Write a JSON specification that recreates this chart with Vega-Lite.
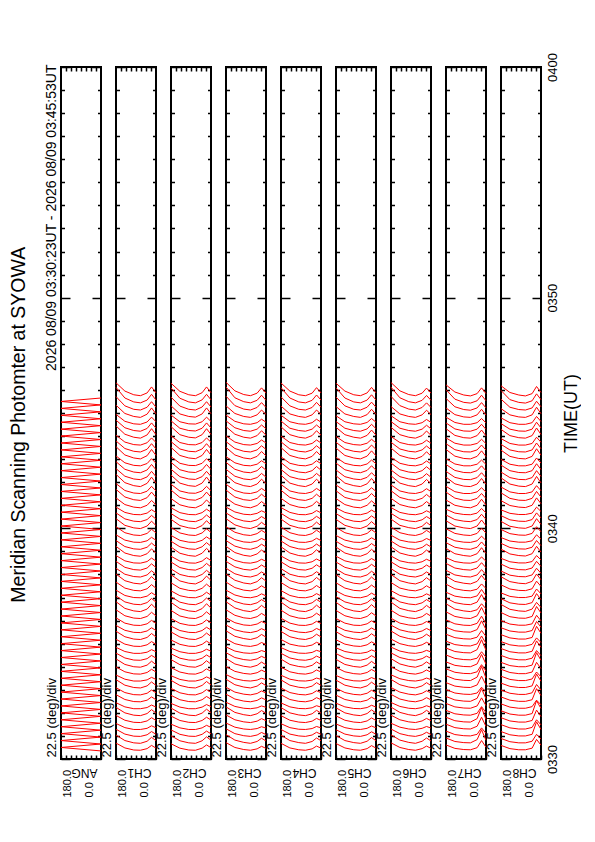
{
"padding":{"left":8,"top":51,"right":0,"bottom":0},
"title":{"text":"Meridian Scanning Photomter at SYOWA","orient":"left","anchor":"middle","align":"center","fontSize":19.5,"font":"Liberation Sans","fontWeight":"normal","color":"black","offset":14},
"datasets":{
"scans":[
{"t":35,"a":[180,140,100,70,40,20,0],"CH1":[69,48,39,38,45,59,47],"CH2":[66,47,39,38,47,61,49],"CH3":[71,50,41,38,44,55,46],"CH4":[68,48,40,38,44,56,47],"CH5":[67,48,40,38,45,58,47],"CH6":[70,50,41,38,45,56,46],"CH7":[61,46,41,40,49,80,51],"CH8":[59,45,40,40,47,85,60]},
{"t":65,"a":[180,140,100,70,40,20,0],"CH1":[104,80,70,68,77,94,79],"CH2":[101,79,70,68,79,96,81],"CH3":[106,82,72,68,76,90,78],"CH4":[103,80,71,68,76,91,79],"CH5":[102,80,71,68,77,93,79],"CH6":[105,82,72,68,77,91,78],"CH7":[91,76,71,70,84,127,81],"CH8":[89,75,70,70,77,107,86]},
{"t":95,"a":[180,140,100,70,40,20,0],"CH1":[129,108,99,98,105,119,107],"CH2":[126,107,99,98,107,121,109],"CH3":[131,110,101,98,104,115,106],"CH4":[128,108,100,98,104,116,107],"CH5":[127,108,100,98,105,118,107],"CH6":[130,110,101,98,105,116,106],"CH7":[121,106,101,100,107,135,111],"CH8":[119,105,100,100,107,161,128]},
{"t":125,"a":[180,140,100,70,40,20,0],"CH1":[154,136,128,128,133,144,135],"CH2":[151,135,128,128,135,146,137],"CH3":[156,138,130,128,132,140,134],"CH4":[153,136,129,128,132,141,135],"CH5":[152,136,129,128,133,143,135],"CH6":[155,138,130,128,133,141,134],"CH7":[151,136,131,130,142,181,141],"CH8":[149,135,130,130,137,170,148]},
{"t":155,"a":[180,140,100,70,40,20,0],"CH1":[189,168,159,158,165,179,167],"CH2":[186,167,159,158,167,181,169],"CH3":[191,170,161,158,164,175,166],"CH4":[188,168,160,158,164,176,167],"CH5":[187,168,160,158,165,178,167],"CH6":[190,170,161,158,165,176,166],"CH7":[181,166,161,160,175,223,171],"CH8":[179,165,160,160,167,212,184]},
{"t":185,"a":[180,140,100,70,40,20,0],"CH1":[224,200,190,188,197,214,199],"CH2":[221,199,190,188,199,216,201],"CH3":[226,202,192,188,196,210,198],"CH4":[223,200,191,188,196,211,199],"CH5":[222,200,191,188,197,213,199],"CH6":[225,202,192,188,197,211,198],"CH7":[211,196,191,190,198,227,201],"CH8":[209,195,190,190,197,253,219]},
{"t":215,"a":[180,140,100,70,40,20,0],"CH1":[244,226,218,218,223,234,225],"CH2":[241,225,218,218,225,236,227],"CH3":[246,228,220,218,222,230,224],"CH4":[243,226,219,218,222,231,225],"CH5":[242,226,219,218,223,233,225],"CH6":[245,228,220,218,223,231,224],"CH7":[241,226,221,220,230,265,231],"CH8":[239,225,220,220,227,255,235]},
{"t":245,"a":[180,140,100,70,40,20,0],"CH1":[279,258,249,248,255,269,257],"CH2":[276,257,249,248,257,271,259],"CH3":[281,260,251,248,254,265,256],"CH4":[278,258,250,248,254,266,257],"CH5":[277,258,250,248,255,268,257],"CH6":[280,260,251,248,255,266,256],"CH7":[271,256,251,250,263,305,261],"CH8":[269,255,250,250,257,305,275]},
{"t":275,"a":[180,140,100,70,40,20,0],"CH1":[309,288,279,278,285,299,287],"CH2":[306,287,279,278,287,301,289],"CH3":[311,290,281,278,284,295,286],"CH4":[308,288,280,278,284,296,287],"CH5":[307,288,280,278,285,298,287],"CH6":[310,290,281,278,285,296,286],"CH7":[301,286,281,280,286,311,291],"CH8":[299,285,280,280,287,323,299]},
{"t":305,"a":[180,140,100,70,40,20,0],"CH1":[344,320,310,308,317,334,319],"CH2":[341,319,310,308,319,336,321],"CH3":[346,322,312,308,316,330,318],"CH4":[343,320,311,308,316,331,319],"CH5":[342,320,311,308,317,333,319],"CH6":[345,322,312,308,317,331,318],"CH7":[331,316,311,310,321,359,321],"CH8":[329,315,310,310,317,368,337]},
{"t":335,"a":[180,140,100,70,40,20,0],"CH1":[364,346,338,338,343,354,345],"CH2":[361,345,338,338,345,356,347],"CH3":[366,348,340,338,342,350,344],"CH4":[363,346,339,338,342,351,345],"CH5":[362,346,339,338,343,353,345],"CH6":[365,348,340,338,343,351,344],"CH7":[361,346,341,340,355,401,351],"CH8":[359,345,340,340,347,377,356]},
{"t":365,"a":[180,140,100,70,40,20,0],"CH1":[399,378,369,368,375,389,377],"CH2":[396,377,369,368,377,391,379],"CH3":[401,380,371,368,374,385,376],"CH4":[398,378,370,368,374,386,377],"CH5":[397,378,370,368,375,388,377],"CH6":[400,380,371,368,375,386,376],"CH7":[391,376,371,370,378,409,381],"CH8":[389,375,370,370,377,419,392]},
{"t":395,"a":[180,140,100,70,40,20,0],"CH1":[434,410,400,398,407,424,409],"CH2":[431,409,400,398,409,426,411],"CH3":[436,412,402,398,406,420,408],"CH4":[433,410,401,398,406,421,409],"CH5":[432,410,401,398,407,423,409],"CH6":[435,412,402,398,407,421,408],"CH7":[421,406,401,400,412,453,411],"CH8":[419,405,400,400,407,461,428]},
{"t":425,"a":[180,140,100,70,40,20,0],"CH1":[459,438,429,428,435,449,437],"CH2":[456,437,429,428,437,451,439],"CH3":[461,440,431,428,434,445,436],"CH4":[458,438,430,428,434,446,437],"CH5":[457,438,430,428,435,448,437],"CH6":[460,440,431,428,435,446,436],"CH7":[451,436,431,430,437,465,441],"CH8":[449,435,430,430,437,470,448]},
{"t":455,"a":[180,140,100,70,40,20,0],"CH1":[484,466,458,458,463,474,465],"CH2":[481,465,458,458,465,476,467],"CH3":[486,468,460,458,462,470,464],"CH4":[483,466,459,458,462,471,465],"CH5":[482,466,459,458,463,473,465],"CH6":[485,468,460,458,463,471,464],"CH7":[481,466,461,460,474,517,471],"CH8":[479,465,460,460,467,512,484]},
{"t":485,"a":[180,140,100,70,40,20,0],"CH1":[519,498,489,488,495,509,497],"CH2":[516,497,489,488,497,511,499],"CH3":[521,500,491,488,494,505,496],"CH4":[518,498,490,488,494,506,497],"CH5":[517,498,490,488,495,508,497],"CH6":[520,500,491,488,495,506,496],"CH7":[511,496,491,490,499,533,501],"CH8":[509,495,490,490,497,525,505]},
{"t":515,"a":[180,140,100,70,40,20,0],"CH1":[554,530,520,518,527,544,529],"CH2":[551,529,520,518,529,546,531],"CH3":[556,532,522,518,526,540,528],"CH4":[553,530,521,518,526,541,529],"CH5":[552,530,521,518,527,543,529],"CH6":[555,532,522,518,527,541,528],"CH7":[541,526,521,520,528,557,531],"CH8":[539,525,520,520,527,575,545]},
{"t":545,"a":[180,140,100,70,40,20,0],"CH1":[579,558,549,548,555,569,557],"CH2":[576,557,549,548,557,571,559],"CH3":[581,560,551,548,554,565,556],"CH4":[578,558,550,548,554,566,557],"CH5":[577,558,550,548,555,568,557],"CH6":[580,560,551,548,555,566,556],"CH7":[571,556,551,550,561,599,561],"CH8":[569,555,550,550,557,596,571]},
{"t":575,"a":[180,140,100,70,40,20,0],"CH1":[612,589,580,579,586,601,588],"CH2":[609,588,580,579,588,603,590],"CH3":[612,591,581,579,585,596,587],"CH4":[610,589,580,579,585,597,587],"CH5":[609,589,580,579,586,599,588],"CH6":[610,589,581,579,585,596,587],"CH7":[603,586,580,579,588,619,587],"CH8":[600,585,580,580,586,623,599]},
{"t":605,"a":[180,140,100,70,40,20,0],"CH1":[647,621,611,609,618,636,620],"CH2":[644,620,611,609,620,638,622],"CH3":[647,623,612,609,617,631,619],"CH4":[645,621,611,609,617,632,619],"CH5":[644,621,611,609,618,634,620],"CH6":[645,621,612,609,617,631,619],"CH7":[638,618,611,609,621,657,619],"CH8":[635,617,611,610,618,661,633]},
{"t":635,"a":[180,140,100,70,40,20,0],"CH1":[682,653,642,639,650,671,652],"CH2":[679,652,642,639,652,673,654],"CH3":[682,655,643,639,649,666,651],"CH4":[680,653,642,639,649,667,651],"CH5":[679,653,642,639,650,669,652],"CH6":[680,653,643,639,649,666,651],"CH7":[673,650,642,639,647,673,651],"CH8":[670,649,642,640,650,679,657]},
{"t":665,"a":[180,140,100,70,40,20,0],"CH1":[707,681,671,669,678,696,680],"CH2":[704,680,671,669,680,698,682],"CH3":[707,683,672,669,677,691,679],"CH4":[705,681,671,669,677,692,679],"CH5":[704,681,671,669,678,694,680],"CH6":[705,681,672,669,677,691,679],"CH7":[698,678,671,669,680,713,679],"CH8":[695,677,671,670,678,717,691]},
{"t":695,"a":[180,140,100,70,40,20,0],"CH1":[732,709,700,699,706,721,708],"CH2":[729,708,700,699,708,723,710],"CH3":[732,711,701,699,705,716,707],"CH4":[730,709,700,699,705,717,707],"CH5":[729,709,700,699,706,719,708],"CH6":[730,709,701,699,705,716,707],"CH7":[723,706,700,699,707,735,707],"CH8":[720,705,700,700,706,737,716]},
{"t":725,"a":[180,140,100,70,40,20,0],"CH1":[767,741,731,729,738,756,740],"CH2":[764,740,731,729,740,758,742],"CH3":[767,743,732,729,737,751,739],"CH4":[765,741,731,729,737,752,739],"CH5":[764,741,731,729,738,754,740],"CH6":[765,741,732,729,737,751,739],"CH7":[758,738,731,729,736,759,739],"CH8":[755,737,731,730,738,771,748]},
{"t":755,"a":[180,140,100,70,40,20,0],"CH1":[802,773,762,759,770,791,772],"CH2":[799,772,762,759,772,793,774],"CH3":[802,775,763,759,769,786,771],"CH4":[800,773,762,759,769,787,771],"CH5":[799,773,762,759,770,789,772],"CH6":[800,773,763,759,769,786,771],"CH7":[793,770,762,759,770,796,771],"CH8":[790,769,762,760,770,802,777]},
{"t":785,"a":[180,140,100,70,40,20,0],"CH1":[827,801,791,789,798,816,800],"CH2":[824,800,791,789,800,818,802],"CH3":[827,803,792,789,797,811,799],"CH4":[825,801,791,789,797,812,799],"CH5":[824,801,791,789,798,814,800],"CH6":[825,801,792,789,797,811,799],"CH7":[818,798,791,789,798,821,799],"CH8":[815,797,791,790,798,827,805]},
{"t":815,"a":[180,140,100,70,40,20,0],"CH1":[857,831,821,819,828,846,830],"CH2":[854,830,821,819,830,848,832],"CH3":[857,833,822,819,827,841,829],"CH4":[855,831,821,819,827,842,829],"CH5":[854,831,821,819,828,844,830],"CH6":[855,831,822,819,827,841,829],"CH7":[848,828,821,819,828,851,829],"CH8":[845,827,821,820,828,857,835]},
{"t":845,"a":[180,140,100,70,40,20,0],"CH1":[882,859,850,849,856,871,858],"CH2":[879,858,850,849,858,873,860],"CH3":[882,861,851,849,855,866,857],"CH4":[880,859,850,849,855,867,857],"CH5":[879,859,850,849,856,869,858],"CH6":[880,859,851,849,855,866,857],"CH7":[873,856,850,849,856,876,857],"CH8":[870,855,850,850,856,882,863]},
{"t":875,"a":[180,140,100,70,40,20,0],"CH1":[922,893,882,879,890,911,892],"CH2":[919,892,882,879,892,913,894],"CH3":[922,895,883,879,889,906,891],"CH4":[920,893,882,879,889,907,891],"CH5":[919,893,882,879,890,909,892],"CH6":[920,893,883,879,889,906,891],"CH7":[913,890,882,879,890,916,891],"CH8":[910,889,882,880,890,922,897]},
{"t":905,"a":[180,140,100,70,40,20,0],"CH1":[947,921,911,909,918,936,920],"CH2":[944,920,911,909,920,938,922],"CH3":[947,923,912,909,917,931,919],"CH4":[945,921,911,909,917,932,919],"CH5":[944,921,911,909,918,934,920],"CH6":[945,921,912,909,917,931,919],"CH7":[938,918,911,909,918,941,919],"CH8":[935,917,911,910,918,947,925]},
{"t":935,"a":[180,140,100,70,40,20,0],"CH1":[972,949,940,939,946,961,948],"CH2":[969,948,940,939,948,963,950],"CH3":[972,951,941,939,945,956,947],"CH4":[970,949,940,939,945,957,947],"CH5":[969,949,940,939,946,959,948],"CH6":[970,949,941,939,945,956,947],"CH7":[963,946,940,939,946,966,947],"CH8":[960,945,940,940,946,972,953]},
{"t":965,"a":[180,140,100,70,40,20,0],"CH1":[1007,981,971,969,978,996,980],"CH2":[1004,980,971,969,980,998,982],"CH3":[1007,983,972,969,977,991,979],"CH4":[1005,981,971,969,977,992,979],"CH5":[1004,981,971,969,978,994,980],"CH6":[1005,981,972,969,977,991,979],"CH7":[998,978,971,969,978,1001,979],"CH8":[995,977,971,970,978,1007,985]},
{"t":995,"a":[180,140,100,70,40,20,0],"CH1":[1042,1013,1002,999,1010,1031,1012],"CH2":[1039,1012,1002,999,1012,1033,1014],"CH3":[1042,1015,1003,999,1009,1026,1011],"CH4":[1040,1013,1002,999,1009,1027,1011],"CH5":[1039,1013,1002,999,1010,1029,1012],"CH6":[1040,1013,1003,999,1009,1026,1011],"CH7":[1033,1010,1002,999,1010,1036,1011],"CH8":[1030,1009,1002,1000,1010,1042,1017]},
{"t":1025,"a":[180,140,100,70,40,20,0],"CH1":[1067,1041,1031,1029,1038,1056,1040],"CH2":[1064,1040,1031,1029,1040,1058,1042],"CH3":[1067,1043,1032,1029,1037,1051,1039],"CH4":[1065,1041,1031,1029,1037,1052,1039],"CH5":[1064,1041,1031,1029,1038,1054,1040],"CH6":[1065,1041,1032,1029,1037,1051,1039],"CH7":[1058,1038,1031,1029,1038,1061,1039],"CH8":[1055,1037,1031,1030,1038,1067,1045]},
{"t":1055,"a":[180,140,100,70,40,20,0],"CH1":[1092,1069,1060,1059,1066,1081,1068],"CH2":[1089,1068,1060,1059,1068,1083,1070],"CH3":[1092,1071,1061,1059,1065,1076,1067],"CH4":[1090,1069,1060,1059,1065,1077,1067],"CH5":[1089,1069,1060,1059,1066,1079,1068],"CH6":[1090,1069,1061,1059,1065,1076,1067],"CH7":[1083,1066,1060,1059,1066,1086,1067],"CH8":[1080,1065,1060,1060,1066,1092,1073]},
{"t":1085,"a":[180,140,100,70,40,20,0],"CH1":[1132,1103,1092,1089,1100,1121,1102],"CH2":[1129,1102,1092,1089,1102,1123,1104],"CH3":[1132,1105,1093,1089,1099,1116,1101],"CH4":[1130,1103,1092,1089,1099,1117,1101],"CH5":[1129,1103,1092,1089,1100,1119,1102],"CH6":[1130,1103,1093,1089,1099,1116,1101],"CH7":[1123,1100,1092,1089,1100,1126,1101],"CH8":[1120,1099,1092,1090,1100,1132,1107]},
{"t":1115,"a":[180,140,100,70,40,20,0],"CH1":[1169,1136,1124,1121,1133,1157,1134],"CH2":[1166,1134,1124,1122,1134,1157,1135],"CH3":[1166,1136,1124,1121,1130,1148,1132],"CH4":[1165,1134,1124,1121,1130,1148,1132],"CH5":[1163,1134,1124,1121,1131,1151,1132],"CH6":[1163,1134,1124,1121,1130,1147,1131],"CH7":[1157,1131,1122,1121,1130,1151,1129],"CH8":[1154,1130,1122,1121,1130,1160,1135]},
{"t":1145,"a":[180,140,100,70,40,20,0],"CH1":[1194,1164,1153,1151,1161,1182,1162],"CH2":[1191,1162,1153,1152,1162,1182,1163],"CH3":[1191,1164,1153,1151,1158,1173,1160],"CH4":[1190,1162,1153,1151,1158,1173,1160],"CH5":[1188,1162,1153,1151,1159,1176,1160],"CH6":[1188,1162,1153,1151,1158,1172,1159],"CH7":[1182,1159,1151,1151,1158,1176,1157],"CH8":[1179,1158,1151,1151,1158,1185,1163]},
{"t":1175,"a":[180,140,100,70,40,20,0],"CH1":[1234,1198,1185,1181,1195,1222,1196],"CH2":[1231,1196,1185,1182,1196,1222,1197],"CH3":[1231,1198,1185,1181,1192,1213,1194],"CH4":[1230,1196,1185,1181,1192,1213,1194],"CH5":[1228,1196,1185,1181,1193,1216,1194],"CH6":[1228,1196,1185,1181,1192,1212,1193],"CH7":[1222,1193,1183,1181,1192,1216,1191],"CH8":[1219,1192,1183,1181,1192,1225,1197]},
{"t":1205,"a":[180,140,100,70,40,20,0],"CH1":[1259,1226,1214,1211,1223,1247,1224],"CH2":[1256,1224,1214,1212,1224,1247,1225],"CH3":[1256,1226,1214,1211,1220,1238,1222],"CH4":[1255,1224,1214,1211,1220,1238,1222],"CH5":[1253,1224,1214,1211,1221,1241,1222],"CH6":[1253,1224,1214,1211,1220,1237,1221],"CH7":[1247,1221,1212,1211,1220,1241,1219],"CH8":[1244,1220,1212,1211,1220,1250,1225]},
{"t":1235,"a":[180,140,100,70,40,20,0],"CH1":[1289,1256,1244,1241,1253,1277,1254],"CH2":[1286,1254,1244,1242,1254,1277,1255],"CH3":[1286,1256,1244,1241,1250,1268,1252],"CH4":[1285,1254,1244,1241,1250,1268,1252],"CH5":[1283,1254,1244,1241,1251,1271,1252],"CH6":[1283,1254,1244,1241,1250,1267,1251],"CH7":[1277,1251,1242,1241,1250,1271,1249],"CH8":[1274,1250,1242,1241,1250,1280,1255]},
{"t":1265,"a":[180,140,100,70,40,20,0],"CH1":[1314,1284,1273,1271,1281,1302,1282],"CH2":[1311,1282,1273,1272,1282,1302,1283],"CH3":[1311,1284,1273,1271,1278,1293,1280],"CH4":[1310,1282,1273,1271,1278,1293,1280],"CH5":[1308,1282,1273,1271,1279,1296,1280],"CH6":[1308,1282,1273,1271,1278,1292,1279],"CH7":[1302,1279,1271,1271,1278,1296,1277],"CH8":[1299,1278,1271,1271,1278,1305,1283]},
{"t":1295,"a":[180,140,100,70,40,20,0],"CH1":[1354,1318,1305,1301,1315,1342,1316],"CH2":[1351,1316,1305,1302,1316,1342,1317],"CH3":[1351,1318,1305,1301,1312,1333,1314],"CH4":[1350,1316,1305,1301,1312,1333,1314],"CH5":[1348,1316,1305,1301,1313,1336,1314],"CH6":[1348,1316,1305,1301,1312,1332,1313],"CH7":[1342,1313,1303,1301,1312,1336,1311],"CH8":[1339,1312,1303,1301,1312,1345,1317]},
{"t":1325,"a":[180,140,100,70,40,20,0],"CH1":[1379,1346,1334,1331,1343,1367,1344],"CH2":[1376,1344,1334,1332,1344,1367,1345],"CH3":[1376,1346,1334,1331,1340,1358,1342],"CH4":[1375,1344,1334,1331,1340,1358,1342],"CH5":[1373,1344,1334,1331,1341,1361,1342],"CH6":[1373,1344,1334,1331,1340,1357,1341],"CH7":[1367,1341,1332,1331,1340,1361,1339],"CH8":[1364,1340,1332,1331,1340,1370,1345]},
{"t":1355,"a":[180,140,100,70,40,20,0],"CH1":[1404,1374,1363,1361,1371,1392,1372],"CH2":[1401,1372,1363,1362,1372,1392,1373],"CH3":[1401,1374,1363,1361,1368,1383,1370],"CH4":[1400,1372,1363,1361,1368,1383,1370],"CH5":[1398,1372,1363,1361,1369,1386,1370],"CH6":[1398,1372,1363,1361,1368,1382,1369],"CH7":[1392,1369,1361,1361,1368,1386,1367],"CH8":[1389,1368,1361,1361,1368,1395,1373]},
{"t":1385,"a":[180,140,100,70,40,20,0],"CH1":[1444,1408,1395,1391,1405,1432,1406],"CH2":[1441,1406,1395,1392,1406,1432,1407],"CH3":[1441,1408,1395,1391,1402,1423,1404],"CH4":[1440,1406,1395,1391,1402,1423,1404],"CH5":[1438,1406,1395,1391,1403,1426,1404],"CH6":[1438,1406,1395,1391,1402,1422,1403],"CH7":[1432,1403,1393,1391,1402,1426,1401],"CH8":[1429,1402,1393,1391,1402,1435,1407]},
{"t":1415,"a":[180,140,100,70,40,20,0],"CH1":[1469,1436,1424,1421,1433,1457,1434],"CH2":[1466,1434,1424,1422,1434,1457,1435],"CH3":[1466,1436,1424,1421,1430,1448,1432],"CH4":[1465,1434,1424,1421,1430,1448,1432],"CH5":[1463,1434,1424,1421,1431,1451,1432],"CH6":[1463,1434,1424,1421,1430,1447,1431],"CH7":[1457,1431,1422,1421,1430,1451,1429],"CH8":[1454,1430,1422,1421,1430,1460,1435]},
{"t":1445,"a":[180,140,100,70,40,20,0],"CH1":[1494,1464,1453,1451,1461,1482,1462],"CH2":[1491,1462,1453,1452,1462,1482,1463],"CH3":[1491,1464,1453,1451,1458,1473,1460],"CH4":[1490,1462,1453,1451,1458,1473,1460],"CH5":[1488,1462,1453,1451,1459,1476,1460],"CH6":[1488,1462,1453,1451,1458,1472,1459],"CH7":[1482,1459,1451,1451,1458,1476,1457],"CH8":[1479,1458,1451,1451,1458,1485,1463]},
{"t":1475,"a":[180,140,100,70,40,20,0],"CH1":[1534,1498,1485,1481,1495,1522,1496],"CH2":[1531,1496,1485,1482,1496,1522,1497],"CH3":[1531,1498,1485,1481,1492,1513,1494],"CH4":[1530,1496,1485,1481,1492,1513,1494],"CH5":[1528,1496,1485,1481,1493,1516,1494],"CH6":[1528,1496,1485,1481,1492,1512,1493],"CH7":[1522,1493,1483,1481,1492,1516,1491],"CH8":[1519,1492,1483,1481,1492,1525,1497]},
{"t":1505,"a":[180,140,100,70,40,20,0],"CH1":[1571,1531,1516,1513,1525,1549,1525],"CH2":[1569,1530,1516,1513,1526,1549,1526],"CH3":[1573,1532,1517,1513,1524,1545,1524],"CH4":[1570,1531,1516,1513,1524,1546,1525],"CH5":[1569,1531,1516,1513,1525,1547,1525],"CH6":[1572,1532,1517,1513,1524,1544,1524],"CH7":[1563,1527,1515,1512,1522,1545,1522],"CH8":[1560,1525,1515,1513,1522,1551,1527]},
{"t":1535,"a":[180,140,100,70,40,20,0],"CH1":[1611,1565,1548,1544,1556,1581,1556],"CH2":[1609,1564,1548,1544,1557,1581,1557],"CH3":[1613,1566,1549,1544,1555,1577,1555],"CH4":[1610,1565,1548,1544,1555,1578,1556],"CH5":[1609,1565,1548,1544,1556,1579,1556],"CH6":[1612,1566,1549,1544,1555,1576,1555],"CH7":[1601,1560,1546,1543,1553,1577,1553],"CH8":[1598,1558,1546,1543,1553,1583,1558]},
{"t":1565,"a":[180,140,100,70,40,20,0],"CH1":[1631,1595,1579,1575,1587,1613,1587],"CH2":[1629,1594,1579,1575,1588,1613,1588],"CH3":[1633,1596,1580,1575,1586,1609,1586],"CH4":[1630,1595,1579,1575,1586,1610,1587],"CH5":[1629,1595,1579,1575,1587,1611,1587],"CH6":[1632,1596,1580,1575,1586,1608,1586],"CH7":[1622,1591,1578,1574,1584,1609,1584],"CH8":[1618,1589,1578,1574,1584,1615,1589]}
],
"ang":[
{"a":0,"y":35},{"a":180,"y":50},{"a":0,"y":65},{"a":180,"y":80},{"a":0,"y":95},{"a":180,"y":110},{"a":0,"y":125},{"a":180,"y":140},{"a":0,"y":155},{"a":180,"y":170},{"a":0,"y":185},{"a":180,"y":200},{"a":0,"y":215},{"a":180,"y":230},{"a":0,"y":245},{"a":180,"y":260},{"a":0,"y":275},{"a":180,"y":290},{"a":0,"y":305},{"a":180,"y":320},{"a":0,"y":335},{"a":180,"y":350},{"a":0,"y":365},{"a":180,"y":380},{"a":0,"y":395},{"a":180,"y":410},{"a":0,"y":425},{"a":180,"y":440},{"a":0,"y":455},{"a":180,"y":470},{"a":0,"y":485},{"a":180,"y":500},{"a":0,"y":515},{"a":180,"y":530},{"a":0,"y":545},{"a":180,"y":560},{"a":0,"y":575},{"a":180,"y":590},{"a":0,"y":605},{"a":180,"y":620},{"a":0,"y":635},{"a":180,"y":650},{"a":0,"y":665},{"a":180,"y":680},{"a":0,"y":695},{"a":180,"y":710},{"a":0,"y":725},{"a":180,"y":740},{"a":0,"y":755},{"a":180,"y":770},{"a":0,"y":785},{"a":180,"y":800},{"a":0,"y":815},{"a":180,"y":830},{"a":0,"y":845},{"a":180,"y":860},{"a":0,"y":875},{"a":180,"y":890},{"a":0,"y":905},{"a":180,"y":920},{"a":0,"y":935},{"a":180,"y":950},{"a":0,"y":965},{"a":180,"y":980},{"a":0,"y":995},{"a":180,"y":1010},{"a":0,"y":1025},{"a":180,"y":1040},{"a":0,"y":1055},{"a":180,"y":1070},{"a":0,"y":1085},{"a":180,"y":1100},{"a":0,"y":1115},{"a":180,"y":1130},{"a":0,"y":1145},{"a":180,"y":1160},{"a":0,"y":1175},{"a":180,"y":1190},{"a":0,"y":1205},{"a":180,"y":1220},{"a":0,"y":1235},{"a":180,"y":1250},{"a":0,"y":1265},{"a":180,"y":1280},{"a":0,"y":1295},{"a":180,"y":1310},{"a":0,"y":1325},{"a":180,"y":1340},{"a":0,"y":1355},{"a":180,"y":1370},{"a":0,"y":1385},{"a":180,"y":1400},{"a":0,"y":1415},{"a":180,"y":1430},{"a":0,"y":1445},{"a":180,"y":1460},{"a":0,"y":1475},{"a":180,"y":1490},{"a":0,"y":1505},{"a":180,"y":1520},{"a":0,"y":1535},{"a":180,"y":1550},{"a":0,"y":1565}
]
},
"data":{"name":"scans"},
"transform":[{"flatten":["a","CH1","CH2","CH3","CH4","CH5","CH6","CH7","CH8"]}],
"bounds":"flush",
"spacing":15,
"hconcat":[
{"width":40,"height":692,"layer":[
{"data":{"name":"ang"},"mark":{"type":"line"},"encoding":{
"x":{"field":"a","type":"quantitative","scale":{"domain":[180,0],"nice":false},"axis":{"orient":"bottom","values":[0,22.5,45,67.5,90,112.5,135,157.5,180],"tickSize":-4,"labelExpr":"datum.value==180?'180.0':datum.value==0?'0.0':''","labelAngle":270,"labelAlign":"left","labelBaseline":"middle","labelPadding":42,"labelFontSize":11,"labelOffset":{"condition":{"test":"datum.value==180","value":6},"value":-12},"title":"ANG","titleAngle":180,"titleX":23,"titleY":13,"titleAlign":"center","titleBaseline":"middle","titleFontSize":12}},
"y":{"field":"y","type":"quantitative","scale":{"domain":[0,3000],"nice":false},"axis":{"orient":"left","tickCount":30,"tickSize":{"condition":{"test":"datum.value%1000==0","value":-9},"value":-3.5},"labels":false,"title":"22.5 (deg)/div","titleAngle":270,"titleX":-3,"titleY":690,"titleAlign":"left","titleBaseline":"bottom","titleFontSize":13}},
"order":{"field":"y","type":"quantitative"}}},
{"data":{"values":[{}]},"mark":{"type":"point","opacity":0},"encoding":{
"x":{"datum":0,"type":"quantitative","axis":{"orient":"top","values":[22.5,45,67.5,90,112.5,135,157.5],"tickSize":-4,"labels":false,"title":"2026 08/09 03:30:23UT - 2026 08/09 03:45:53UT","titleAngle":270,"titleX":-3,"titleY":-3,"titleAlign":"right","titleBaseline":"bottom","titleFontSize":14}},
"y":{"datum":0,"type":"quantitative","axis":{"orient":"right","tickCount":30,"tickSize":{"condition":{"test":"datum.value%1000==0","value":-9},"value":-3.5},"labels":false,"title":null}}}}
],"resolve":{"axis":{"x":"independent","y":"independent"}}},
{"width":40,"height":692,"layer":[
{"mark":{"type":"line"},"encoding":{
"x":{"field":"a","type":"quantitative","scale":{"domain":[180,0],"nice":false},"axis":{"orient":"bottom","values":[0,22.5,45,67.5,90,112.5,135,157.5,180],"tickSize":-4,"labelExpr":"datum.value==180?'180.0':datum.value==0?'0.0':''","labelAngle":270,"labelAlign":"left","labelBaseline":"middle","labelPadding":42,"labelFontSize":11,"labelOffset":{"condition":{"test":"datum.value==180","value":6},"value":-12},"title":"CH1","titleAngle":180,"titleX":23,"titleY":13,"titleAlign":"center","titleBaseline":"middle","titleFontSize":12}},
"y":{"field":"CH1","type":"quantitative","scale":{"domain":[0,3000],"nice":false},"axis":{"orient":"left","tickCount":30,"tickSize":{"condition":{"test":"datum.value%1000==0","value":-9},"value":-3.5},"labels":false,"title":"22.5 (deg)/div","titleAngle":270,"titleX":-3,"titleY":690,"titleAlign":"left","titleBaseline":"bottom","titleFontSize":13}},
"detail":{"field":"t","type":"nominal"}}},
{"data":{"values":[{}]},"mark":{"type":"point","opacity":0},"encoding":{
"x":{"datum":0,"type":"quantitative","axis":{"orient":"top","values":[22.5,45,67.5,90,112.5,135,157.5],"tickSize":-4,"labels":false,"title":null}},
"y":{"datum":0,"type":"quantitative","axis":{"orient":"right","tickCount":30,"tickSize":{"condition":{"test":"datum.value%1000==0","value":-9},"value":-3.5},"labels":false,"title":null}}}}
],"resolve":{"axis":{"x":"independent","y":"independent"}}},
{"width":40,"height":692,"layer":[
{"mark":{"type":"line"},"encoding":{
"x":{"field":"a","type":"quantitative","scale":{"domain":[180,0],"nice":false},"axis":{"orient":"bottom","values":[0,22.5,45,67.5,90,112.5,135,157.5,180],"tickSize":-4,"labelExpr":"datum.value==180?'180.0':datum.value==0?'0.0':''","labelAngle":270,"labelAlign":"left","labelBaseline":"middle","labelPadding":42,"labelFontSize":11,"labelOffset":{"condition":{"test":"datum.value==180","value":6},"value":-12},"title":"CH2","titleAngle":180,"titleX":23,"titleY":13,"titleAlign":"center","titleBaseline":"middle","titleFontSize":12}},
"y":{"field":"CH2","type":"quantitative","scale":{"domain":[0,3000],"nice":false},"axis":{"orient":"left","tickCount":30,"tickSize":{"condition":{"test":"datum.value%1000==0","value":-9},"value":-3.5},"labels":false,"title":"22.5 (deg)/div","titleAngle":270,"titleX":-3,"titleY":690,"titleAlign":"left","titleBaseline":"bottom","titleFontSize":13}},
"detail":{"field":"t","type":"nominal"}}},
{"data":{"values":[{}]},"mark":{"type":"point","opacity":0},"encoding":{
"x":{"datum":0,"type":"quantitative","axis":{"orient":"top","values":[22.5,45,67.5,90,112.5,135,157.5],"tickSize":-4,"labels":false,"title":null}},
"y":{"datum":0,"type":"quantitative","axis":{"orient":"right","tickCount":30,"tickSize":{"condition":{"test":"datum.value%1000==0","value":-9},"value":-3.5},"labels":false,"title":null}}}}
],"resolve":{"axis":{"x":"independent","y":"independent"}}},
{"width":40,"height":692,"layer":[
{"mark":{"type":"line"},"encoding":{
"x":{"field":"a","type":"quantitative","scale":{"domain":[180,0],"nice":false},"axis":{"orient":"bottom","values":[0,22.5,45,67.5,90,112.5,135,157.5,180],"tickSize":-4,"labelExpr":"datum.value==180?'180.0':datum.value==0?'0.0':''","labelAngle":270,"labelAlign":"left","labelBaseline":"middle","labelPadding":42,"labelFontSize":11,"labelOffset":{"condition":{"test":"datum.value==180","value":6},"value":-12},"title":"CH3","titleAngle":180,"titleX":23,"titleY":13,"titleAlign":"center","titleBaseline":"middle","titleFontSize":12}},
"y":{"field":"CH3","type":"quantitative","scale":{"domain":[0,3000],"nice":false},"axis":{"orient":"left","tickCount":30,"tickSize":{"condition":{"test":"datum.value%1000==0","value":-9},"value":-3.5},"labels":false,"title":"22.5 (deg)/div","titleAngle":270,"titleX":-3,"titleY":690,"titleAlign":"left","titleBaseline":"bottom","titleFontSize":13}},
"detail":{"field":"t","type":"nominal"}}},
{"data":{"values":[{}]},"mark":{"type":"point","opacity":0},"encoding":{
"x":{"datum":0,"type":"quantitative","axis":{"orient":"top","values":[22.5,45,67.5,90,112.5,135,157.5],"tickSize":-4,"labels":false,"title":null}},
"y":{"datum":0,"type":"quantitative","axis":{"orient":"right","tickCount":30,"tickSize":{"condition":{"test":"datum.value%1000==0","value":-9},"value":-3.5},"labels":false,"title":null}}}}
],"resolve":{"axis":{"x":"independent","y":"independent"}}},
{"width":40,"height":692,"layer":[
{"mark":{"type":"line"},"encoding":{
"x":{"field":"a","type":"quantitative","scale":{"domain":[180,0],"nice":false},"axis":{"orient":"bottom","values":[0,22.5,45,67.5,90,112.5,135,157.5,180],"tickSize":-4,"labelExpr":"datum.value==180?'180.0':datum.value==0?'0.0':''","labelAngle":270,"labelAlign":"left","labelBaseline":"middle","labelPadding":42,"labelFontSize":11,"labelOffset":{"condition":{"test":"datum.value==180","value":6},"value":-12},"title":"CH4","titleAngle":180,"titleX":23,"titleY":13,"titleAlign":"center","titleBaseline":"middle","titleFontSize":12}},
"y":{"field":"CH4","type":"quantitative","scale":{"domain":[0,3000],"nice":false},"axis":{"orient":"left","tickCount":30,"tickSize":{"condition":{"test":"datum.value%1000==0","value":-9},"value":-3.5},"labels":false,"title":"22.5 (deg)/div","titleAngle":270,"titleX":-3,"titleY":690,"titleAlign":"left","titleBaseline":"bottom","titleFontSize":13}},
"detail":{"field":"t","type":"nominal"}}},
{"data":{"values":[{}]},"mark":{"type":"point","opacity":0},"encoding":{
"x":{"datum":0,"type":"quantitative","axis":{"orient":"top","values":[22.5,45,67.5,90,112.5,135,157.5],"tickSize":-4,"labels":false,"title":null}},
"y":{"datum":0,"type":"quantitative","axis":{"orient":"right","tickCount":30,"tickSize":{"condition":{"test":"datum.value%1000==0","value":-9},"value":-3.5},"labels":false,"title":null}}}}
],"resolve":{"axis":{"x":"independent","y":"independent"}}},
{"width":40,"height":692,"layer":[
{"mark":{"type":"line"},"encoding":{
"x":{"field":"a","type":"quantitative","scale":{"domain":[180,0],"nice":false},"axis":{"orient":"bottom","values":[0,22.5,45,67.5,90,112.5,135,157.5,180],"tickSize":-4,"labelExpr":"datum.value==180?'180.0':datum.value==0?'0.0':''","labelAngle":270,"labelAlign":"left","labelBaseline":"middle","labelPadding":42,"labelFontSize":11,"labelOffset":{"condition":{"test":"datum.value==180","value":6},"value":-12},"title":"CH5","titleAngle":180,"titleX":23,"titleY":13,"titleAlign":"center","titleBaseline":"middle","titleFontSize":12}},
"y":{"field":"CH5","type":"quantitative","scale":{"domain":[0,3000],"nice":false},"axis":{"orient":"left","tickCount":30,"tickSize":{"condition":{"test":"datum.value%1000==0","value":-9},"value":-3.5},"labels":false,"title":"22.5 (deg)/div","titleAngle":270,"titleX":-3,"titleY":690,"titleAlign":"left","titleBaseline":"bottom","titleFontSize":13}},
"detail":{"field":"t","type":"nominal"}}},
{"data":{"values":[{}]},"mark":{"type":"point","opacity":0},"encoding":{
"x":{"datum":0,"type":"quantitative","axis":{"orient":"top","values":[22.5,45,67.5,90,112.5,135,157.5],"tickSize":-4,"labels":false,"title":null}},
"y":{"datum":0,"type":"quantitative","axis":{"orient":"right","tickCount":30,"tickSize":{"condition":{"test":"datum.value%1000==0","value":-9},"value":-3.5},"labels":false,"title":null}}}}
],"resolve":{"axis":{"x":"independent","y":"independent"}}},
{"width":40,"height":692,"layer":[
{"mark":{"type":"line"},"encoding":{
"x":{"field":"a","type":"quantitative","scale":{"domain":[180,0],"nice":false},"axis":{"orient":"bottom","values":[0,22.5,45,67.5,90,112.5,135,157.5,180],"tickSize":-4,"labelExpr":"datum.value==180?'180.0':datum.value==0?'0.0':''","labelAngle":270,"labelAlign":"left","labelBaseline":"middle","labelPadding":42,"labelFontSize":11,"labelOffset":{"condition":{"test":"datum.value==180","value":6},"value":-12},"title":"CH6","titleAngle":180,"titleX":23,"titleY":13,"titleAlign":"center","titleBaseline":"middle","titleFontSize":12}},
"y":{"field":"CH6","type":"quantitative","scale":{"domain":[0,3000],"nice":false},"axis":{"orient":"left","tickCount":30,"tickSize":{"condition":{"test":"datum.value%1000==0","value":-9},"value":-3.5},"labels":false,"title":"22.5 (deg)/div","titleAngle":270,"titleX":-3,"titleY":690,"titleAlign":"left","titleBaseline":"bottom","titleFontSize":13}},
"detail":{"field":"t","type":"nominal"}}},
{"data":{"values":[{}]},"mark":{"type":"point","opacity":0},"encoding":{
"x":{"datum":0,"type":"quantitative","axis":{"orient":"top","values":[22.5,45,67.5,90,112.5,135,157.5],"tickSize":-4,"labels":false,"title":null}},
"y":{"datum":0,"type":"quantitative","axis":{"orient":"right","tickCount":30,"tickSize":{"condition":{"test":"datum.value%1000==0","value":-9},"value":-3.5},"labels":false,"title":null}}}}
],"resolve":{"axis":{"x":"independent","y":"independent"}}},
{"width":40,"height":692,"layer":[
{"mark":{"type":"line"},"encoding":{
"x":{"field":"a","type":"quantitative","scale":{"domain":[180,0],"nice":false},"axis":{"orient":"bottom","values":[0,22.5,45,67.5,90,112.5,135,157.5,180],"tickSize":-4,"labelExpr":"datum.value==180?'180.0':datum.value==0?'0.0':''","labelAngle":270,"labelAlign":"left","labelBaseline":"middle","labelPadding":42,"labelFontSize":11,"labelOffset":{"condition":{"test":"datum.value==180","value":6},"value":-12},"title":"CH7","titleAngle":180,"titleX":23,"titleY":13,"titleAlign":"center","titleBaseline":"middle","titleFontSize":12}},
"y":{"field":"CH7","type":"quantitative","scale":{"domain":[0,3000],"nice":false},"axis":{"orient":"left","tickCount":30,"tickSize":{"condition":{"test":"datum.value%1000==0","value":-9},"value":-3.5},"labels":false,"title":"22.5 (deg)/div","titleAngle":270,"titleX":-3,"titleY":690,"titleAlign":"left","titleBaseline":"bottom","titleFontSize":13}},
"detail":{"field":"t","type":"nominal"}}},
{"data":{"values":[{}]},"mark":{"type":"point","opacity":0},"encoding":{
"x":{"datum":0,"type":"quantitative","axis":{"orient":"top","values":[22.5,45,67.5,90,112.5,135,157.5],"tickSize":-4,"labels":false,"title":null}},
"y":{"datum":0,"type":"quantitative","axis":{"orient":"right","tickCount":30,"tickSize":{"condition":{"test":"datum.value%1000==0","value":-9},"value":-3.5},"labels":false,"title":null}}}}
],"resolve":{"axis":{"x":"independent","y":"independent"}}},
{"width":40,"height":692,"layer":[
{"mark":{"type":"line"},"encoding":{
"x":{"field":"a","type":"quantitative","scale":{"domain":[180,0],"nice":false},"axis":{"orient":"bottom","values":[0,22.5,45,67.5,90,112.5,135,157.5,180],"tickSize":-4,"labelExpr":"datum.value==180?'180.0':datum.value==0?'0.0':''","labelAngle":270,"labelAlign":"left","labelBaseline":"middle","labelPadding":42,"labelFontSize":11,"labelOffset":{"condition":{"test":"datum.value==180","value":6},"value":-12},"title":"CH8","titleAngle":180,"titleX":23,"titleY":13,"titleAlign":"center","titleBaseline":"middle","titleFontSize":12}},
"y":{"field":"CH8","type":"quantitative","scale":{"domain":[0,3000],"nice":false},"axis":{"orient":"left","tickCount":30,"tickSize":{"condition":{"test":"datum.value%1000==0","value":-9},"value":-3.5},"labels":false,"title":"22.5 (deg)/div","titleAngle":270,"titleX":-3,"titleY":690,"titleAlign":"left","titleBaseline":"bottom","titleFontSize":13}},
"detail":{"field":"t","type":"nominal"}}},
{"data":{"values":[{}]},"mark":{"type":"point","opacity":0},"encoding":{
"x":{"datum":0,"type":"quantitative","axis":{"orient":"top","values":[22.5,45,67.5,90,112.5,135,157.5],"tickSize":-4,"labels":false,"title":null}},
"y":{"datum":0,"type":"quantitative","axis":{"orient":"right","tickCount":30,"tickSize":{"condition":{"test":"datum.value%1000==0","value":-9},"value":-3.5},"labels":true,"labelExpr":"datum.value%1000==0?['0330','0340','0350','0400'][datum.value/1000]:''","labelAngle":270,"labelAlign":"center","labelBaseline":"top","labelPadding":14,"labelFontSize":13,"title":"TIME(UT)","titleAngle":270,"titleX":30,"titleY":346,"titleAlign":"center","titleBaseline":"middle","titleFontSize":18}}}}
],"resolve":{"axis":{"x":"independent","y":"independent"}}}
],
"config":{
"view":{"stroke":"black","strokeWidth":2},
"line":{"color":"#ff0000","strokeWidth":1},
"axis":{"grid":false,"domain":false,"tickColor":"black","tickWidth":1.5,"labelFont":"Liberation Sans","titleFont":"Liberation Sans","titleFontWeight":"normal","labelColor":"black","titleColor":"black","labelFlush":false,"labelOverlap":false}
}
}
